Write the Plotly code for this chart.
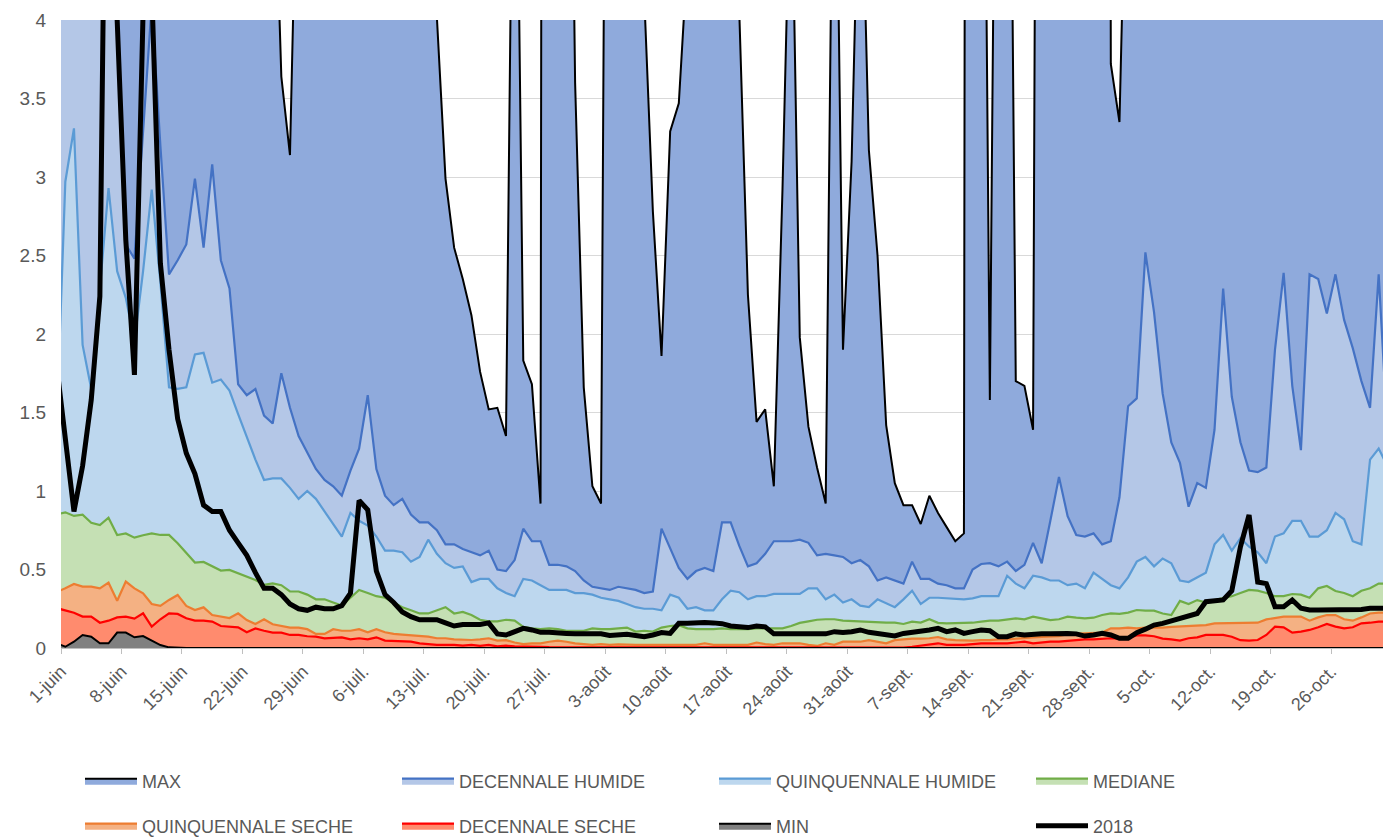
import pandas as pd
import plotly.graph_objects as go

# one value per day, 31-mai .. 1-nov (points sit at the middle of each day)
jours = pd.date_range("2018-05-31 12:00", periods=155, freq="D")

maxi = [
    8, 8, 8, 8, 8, 8, 8, 8, 8, 8,
    8, 8, 8, 8, 8, 8, 8, 8, 8, 8,
    8, 8, 8, 8, 8, 5.4, 3.64, 3.14, 7.0, 8,
    8, 8, 8, 8, 8, 8, 8, 8, 8, 8,
    8, 8, 8, 6.0, 4.02, 2.99, 2.55, 2.35, 2.12, 1.76,
    1.52, 1.53, 1.35, 6.5, 1.83, 1.68, 0.92, 40, 15, 8,
    3.6, 1.66, 1.03, 0.92, 10.8, 8, 8, 8, 4.15, 2.78,
    1.86, 3.29, 3.47, 4.4, 8, 8, 8, 8, 8, 4.05,
    2.25, 1.44, 1.52, 1.03, 2.92, 5.2, 1.98, 1.41, 1.15, 0.92,
    6.2, 1.9, 3.1, 5.4, 3.17, 2.5, 1.42, 1.05, 0.91, 0.91,
    0.79, 0.97, 0.86, 0.77, 0.68, 0.73, 40, 8, 1.58, 8,
    8, 1.70, 1.67, 1.39, 15, 8, 8, 8, 8, 8,
    8, 30, 3.72, 3.35, 5.2, 8, 8, 8, 8, 8,
    8, 8, 8, 8, 8, 8, 8, 8, 8, 8,
    8, 8, 8, 8, 8, 8, 8, 8, 8, 8,
    8, 8, 8, 8, 8,
]

decennale_humide = [
    8, 8, 8, 8, 8, 8, 8, 4.05, 2.57, 2.48,
    3.3, 4.1, 3.2, 2.38, 2.47, 2.57, 2.99, 2.55, 3.08, 2.47,
    2.29, 1.68, 1.61, 1.65, 1.48, 1.43, 1.75, 1.53, 1.35, 1.24,
    1.14, 1.07, 1.03, 0.97, 1.13, 1.27, 1.61, 1.14, 0.97, 0.91,
    0.95, 0.85, 0.80, 0.80, 0.75, 0.66, 0.66, 0.63, 0.61, 0.59,
    0.62, 0.50, 0.49, 0.56, 0.76, 0.68, 0.68, 0.53, 0.53, 0.52,
    0.49, 0.43, 0.39, 0.38, 0.37, 0.39, 0.38, 0.37, 0.35, 0.36,
    0.76, 0.63, 0.51, 0.44, 0.49, 0.51, 0.49, 0.80, 0.80, 0.65,
    0.52, 0.54, 0.60, 0.68, 0.68, 0.68, 0.69, 0.67, 0.59, 0.60,
    0.59, 0.58, 0.54, 0.56, 0.52, 0.43, 0.45, 0.43, 0.41, 0.55,
    0.44, 0.44, 0.41, 0.40, 0.38, 0.38, 0.50, 0.535, 0.54, 0.52,
    0.55, 0.49, 0.53, 0.67, 0.54, 0.81, 1.09, 0.84, 0.72, 0.71,
    0.73, 0.66, 0.68, 0.96, 1.54, 1.59, 2.52, 2.14, 1.62, 1.31,
    1.18, 0.90, 1.05, 1.02, 1.39, 2.29, 1.60, 1.31, 1.13, 1.12,
    1.15, 1.90, 2.39, 1.67, 1.26, 2.38, 2.35, 2.13, 2.38, 2.09,
    1.91, 1.70, 1.53, 2.38, 1.38,
]

quinquennale_humide = [
    1.43, 2.97, 3.31, 1.93, 1.65, 2.30, 2.93, 2.40, 2.23, 1.95,
    2.40, 2.92, 2.33, 1.66, 1.65, 1.66, 1.87, 1.88, 1.69, 1.71,
    1.64, 1.49, 1.34, 1.20, 1.07, 1.08, 1.08, 1.02, 0.95, 1.00,
    0.95, 0.87, 0.79, 0.71, 0.86, 0.81, 0.78, 0.71, 0.62, 0.62,
    0.61, 0.55, 0.58, 0.69, 0.60, 0.54, 0.51, 0.52, 0.42, 0.44,
    0.44, 0.38, 0.35, 0.33, 0.44, 0.43, 0.40, 0.37, 0.37, 0.37,
    0.35, 0.35, 0.34, 0.32, 0.31, 0.30, 0.28, 0.26, 0.25, 0.25,
    0.24, 0.34, 0.32, 0.25, 0.26, 0.24, 0.24, 0.31, 0.365, 0.355,
    0.31, 0.33, 0.33, 0.345, 0.345, 0.345, 0.345, 0.38, 0.38, 0.31,
    0.34, 0.29, 0.31, 0.27, 0.26, 0.31, 0.285, 0.26, 0.31, 0.365,
    0.28, 0.32, 0.32, 0.316, 0.316, 0.31, 0.316, 0.33, 0.33, 0.33,
    0.46, 0.41, 0.38, 0.46, 0.45, 0.43, 0.43, 0.40, 0.41, 0.38,
    0.48, 0.44, 0.40, 0.38, 0.45, 0.55, 0.58, 0.52, 0.57, 0.54,
    0.43, 0.42, 0.45, 0.48, 0.66, 0.72, 0.62, 0.70, 0.645, 0.61,
    0.54, 0.71, 0.73, 0.81, 0.81, 0.71, 0.71, 0.75, 0.86, 0.82,
    0.68, 0.66, 1.20, 1.27, 1.16,
]

mediane = [
    0.852, 0.864, 0.841, 0.849, 0.798, 0.783, 0.830, 0.720, 0.730, 0.703,
    0.718, 0.730, 0.720, 0.720, 0.667, 0.603, 0.544, 0.548, 0.522, 0.493,
    0.497, 0.476, 0.450, 0.433, 0.403, 0.412, 0.40, 0.36, 0.36, 0.34,
    0.31, 0.31, 0.29, 0.27, 0.32, 0.37, 0.35, 0.33, 0.32, 0.29,
    0.26, 0.24, 0.22, 0.22, 0.24, 0.26, 0.22, 0.23, 0.21, 0.18,
    0.17, 0.17, 0.18, 0.175, 0.135, 0.125, 0.12, 0.125, 0.12, 0.11,
    0.11, 0.11, 0.125, 0.12, 0.12, 0.125, 0.13, 0.105, 0.11, 0.105,
    0.13, 0.14, 0.145, 0.125, 0.12, 0.12, 0.12, 0.125, 0.12, 0.12,
    0.12, 0.125, 0.125, 0.125, 0.125, 0.14, 0.16, 0.17, 0.18, 0.183,
    0.183, 0.175, 0.172, 0.168, 0.165, 0.162, 0.162, 0.161, 0.153, 0.168,
    0.162, 0.183, 0.16, 0.157, 0.157, 0.157, 0.161, 0.168, 0.174, 0.174,
    0.183, 0.189, 0.183, 0.20, 0.189, 0.178, 0.183, 0.20, 0.193, 0.189,
    0.193, 0.21, 0.22, 0.217, 0.225, 0.242, 0.238, 0.238, 0.22, 0.21,
    0.30, 0.28, 0.305, 0.29, 0.305, 0.316, 0.33, 0.35, 0.37, 0.365,
    0.35, 0.33, 0.33, 0.344, 0.34, 0.32, 0.38, 0.395, 0.363, 0.35,
    0.33, 0.365, 0.38, 0.41, 0.41,
]

quinquennale_seche = [
    0.358, 0.38, 0.408, 0.391, 0.391, 0.38, 0.416, 0.301, 0.423, 0.38,
    0.348, 0.28, 0.268, 0.306, 0.338, 0.268, 0.242, 0.259, 0.21, 0.20,
    0.191, 0.221, 0.178, 0.153, 0.183, 0.151, 0.14, 0.13, 0.13, 0.12,
    0.09, 0.09, 0.12, 0.11, 0.11, 0.12, 0.10, 0.12, 0.10, 0.09,
    0.085, 0.08, 0.077, 0.072, 0.062, 0.062, 0.055, 0.051, 0.051, 0.055,
    0.062, 0.047, 0.05, 0.035, 0.025, 0.03, 0.03, 0.04, 0.047, 0.04,
    0.03, 0.025, 0.02, 0.025, 0.02, 0.023, 0.02, 0.02, 0.02, 0.02,
    0.02, 0.02, 0.02, 0.02, 0.02, 0.03, 0.02, 0.02, 0.02, 0.02,
    0.02, 0.035, 0.025, 0.02, 0.03, 0.03, 0.03, 0.02, 0.013, 0.03,
    0.02, 0.04, 0.04, 0.04, 0.05, 0.04, 0.03, 0.05, 0.055, 0.06,
    0.06, 0.062, 0.07, 0.055, 0.05, 0.047, 0.047, 0.05, 0.05, 0.055,
    0.055, 0.06, 0.065, 0.068, 0.07, 0.072, 0.075, 0.088, 0.09, 0.092,
    0.094, 0.098, 0.125, 0.125, 0.13, 0.125, 0.13, 0.13, 0.13, 0.135,
    0.137, 0.14, 0.14, 0.146, 0.157, 0.157, 0.16, 0.161, 0.161, 0.161,
    0.182, 0.19, 0.20, 0.20, 0.20, 0.174, 0.195, 0.21, 0.21, 0.183,
    0.174, 0.195, 0.22, 0.225, 0.225,
]

decennale_seche = [
    0.254, 0.238, 0.225, 0.20, 0.20, 0.161, 0.174, 0.195, 0.20, 0.187,
    0.221, 0.136, 0.183, 0.221, 0.217, 0.189, 0.174, 0.174, 0.168, 0.14,
    0.136, 0.132, 0.10, 0.125, 0.11, 0.098, 0.098, 0.083, 0.083, 0.075,
    0.072, 0.062, 0.065, 0.068, 0.055, 0.062, 0.055, 0.068, 0.047, 0.045,
    0.045, 0.04, 0.03, 0.025, 0.02, 0.02, 0.02, 0.015, 0.02, 0.013,
    0.02, 0.01, 0.015, 0.01, 0.01, 0.012, 0.008, 0.005, 0.005, 0.005,
    0.004, 0.005, 0.004, 0.005, 0.004, 0.003, 0.004, 0.003, 0.003, 0.004,
    0.003, 0.004, 0.003, 0.003, 0.004, 0.003, 0.003, 0.004, 0.003, 0.003,
    0.003, 0.004, 0.003, 0.003, 0.004, 0.003, 0.003, 0.004, 0.003, 0.003,
    0.003, 0.004, 0.003, 0.003, 0.004, 0.003, 0.003, 0.004, 0.003, 0.008,
    0.015, 0.025, 0.03, 0.02, 0.02, 0.02, 0.025, 0.03, 0.03, 0.03,
    0.03, 0.035, 0.04, 0.03, 0.035, 0.04, 0.04, 0.045, 0.05, 0.055,
    0.055, 0.06, 0.062, 0.06, 0.065, 0.08, 0.08, 0.075, 0.06, 0.055,
    0.047, 0.062, 0.068, 0.083, 0.083, 0.083, 0.072, 0.05, 0.047, 0.051,
    0.083, 0.136, 0.132, 0.098, 0.104, 0.115, 0.132, 0.153, 0.136, 0.125,
    0.132, 0.157, 0.161, 0.168, 0.168,
]

mini = [
    0.03, 0.008, 0.040, 0.083, 0.072, 0.030, 0.030, 0.098, 0.098, 0.068,
    0.076, 0.047, 0.019, 0.004, 0, 0, 0, 0, 0, 0,
    0, 0, 0, 0, 0, 0, 0, 0, 0, 0,
    0, 0, 0, 0, 0, 0, 0, 0, 0, 0,
    0, 0, 0, 0, 0, 0, 0, 0, 0, 0,
    0, 0, 0, 0, 0, 0, 0, 0, 0, 0,
    0, 0, 0, 0, 0, 0, 0, 0, 0, 0,
    0, 0, 0, 0, 0, 0, 0, 0, 0, 0,
    0, 0, 0, 0, 0, 0, 0, 0, 0, 0,
    0, 0, 0, 0, 0, 0, 0, 0, 0, 0,
    0, 0, 0, 0, 0, 0, 0, 0, 0, 0,
    0, 0, 0, 0, 0, 0, 0, 0, 0, 0,
    0, 0, 0, 0, 0, 0, 0, 0, 0, 0,
    0, 0, 0, 0, 0, 0, 0, 0, 0, 0,
    0, 0, 0, 0, 0, 0, 0, 0, 0, 0,
    0, 0, 0, 0, 0,
]

debit_2018 = [
    1.8, 1.34, 0.87, 1.16, 1.58, 2.24, 7.0, 4.0, 2.6, 1.74,
    4.05, 4.2, 2.45, 1.9, 1.46, 1.24, 1.11, 0.91, 0.87, 0.87,
    0.75, 0.67, 0.59, 0.48, 0.38, 0.38, 0.34, 0.28, 0.25, 0.24,
    0.26, 0.25, 0.25, 0.27, 0.35, 0.94, 0.88, 0.49, 0.34, 0.29,
    0.23, 0.20, 0.18, 0.18, 0.18, 0.16, 0.14, 0.15, 0.15, 0.15,
    0.16, 0.09, 0.083, 0.10, 0.125, 0.115, 0.10, 0.10, 0.093, 0.093,
    0.09, 0.09, 0.09, 0.09, 0.08, 0.087, 0.087, 0.08, 0.072, 0.083,
    0.098, 0.093, 0.157, 0.157, 0.163, 0.163, 0.16, 0.155, 0.14, 0.135,
    0.13, 0.14, 0.135, 0.09, 0.09, 0.09, 0.09, 0.09, 0.09, 0.09,
    0.104, 0.098, 0.104, 0.115, 0.10, 0.093, 0.09, 0.077, 0.093, 0.098,
    0.104, 0.115, 0.125, 0.104, 0.115, 0.093, 0.104, 0.115, 0.11, 0.072,
    0.072, 0.09, 0.083, 0.09, 0.09, 0.09, 0.093, 0.093, 0.09, 0.076,
    0.083, 0.093, 0.083, 0.062, 0.062, 0.098, 0.12, 0.146, 0.157, 0.174,
    0.183, 0.20, 0.22, 0.295, 0.30, 0.306, 0.365, 0.645, 0.847, 0.42,
    0.41, 0.263, 0.263, 0.306, 0.253, 0.242, 0.242, 0.242, 0.242, 0.242,
    0.242, 0.246, 0.253, 0.253, 0.253,
]

tick_dates = pd.date_range("2018-06-01", "2018-10-26", freq="7D")
tick_labels = [
    "1-juin", "8-juin", "15-juin", "22-juin", "29-juin", "6-juil.", "13-juil.",
    "20-juil.", "27-juil.", "3-août", "10-août", "17-août", "24-août", "31-août",
    "7-sept.", "14-sept.", "21-sept.", "28-sept.", "5-oct.", "12-oct.", "19-oct.", "26-oct.",
]

FONT = "Liberation Sans, Arial, sans-serif"
GREY = "#595959"

# (name, values, fill, outline, width, legend)
areas = [
    ("MAX", maxi, "#8FAADC", "#000000", 2, "legend"),
    ("DECENNALE HUMIDE", decennale_humide, "#B4C7E7", "#4472C4", 2.2, "legend"),
    ("QUINQUENNALE HUMIDE", quinquennale_humide, "#BDD7EE", "#5B9BD5", 2.2, "legend"),
    ("MEDIANE", mediane, "#C5E0B4", "#70AD47", 2.2, "legend"),
    ("QUINQUENNALE SECHE", quinquennale_seche, "#F4B183", "#ED7D31", 2.2, "legend2"),
    ("DECENNALE SECHE", decennale_seche, "#FF8B6E", "#FF0000", 2.2, "legend2"),
    ("MIN", mini, "#808080", "#000000", 2, "legend2"),
]

fig = go.Figure()
for name, vals, fill, line, w, leg in areas:
    fig.add_trace(go.Scatter(
        x=jours, y=vals, name=name, mode="lines", fill="tozeroy",
        fillcolor=fill, line=dict(color=line, width=w), legend=leg,
    ))
fig.add_trace(go.Scatter(
    x=jours, y=debit_2018, name="2018", mode="lines",
    line=dict(color="#000000", width=5), legend="legend2",
))

leg_common = dict(
    orientation="h", xref="container", yref="container", xanchor="left",
    yanchor="middle", entrywidth=250, entrywidthmode="pixels",
    font=dict(family=FONT, size=18, color=GREY), bgcolor="rgba(0,0,0,0)",
    itemwidth=52, traceorder="normal",
)

fig.update_layout(
    width=1392, height=839,
    margin=dict(l=61, r=9, t=20, b=191),
    paper_bgcolor="white", plot_bgcolor="white",
    font=dict(family=FONT, color=GREY),
    legend=dict(x=80 / 1392, y=1 - 781 / 839, **leg_common),
    legend2=dict(x=80 / 1392, y=1 - 826 / 839, **leg_common),
    xaxis=dict(
        range=["2018-06-01", "2018-11-01"], tickvals=tick_dates, ticktext=tick_labels,
        tickangle=-45, tickfont=dict(family=FONT, size=18, color=GREY),
        showgrid=False, showline=True, linecolor="#BFBFBF", linewidth=1,
        ticks="outside", ticklen=5, tickcolor="#BFBFBF", zeroline=False,
        automargin=False,
    ),
    yaxis=dict(
        range=[0, 4], dtick=0.5, tickfont=dict(family=FONT, size=19, color=GREY),
        showgrid=True, gridcolor="#D9D9D9", gridwidth=1.3, zeroline=False,
        showline=False, ticks="", ticklabelstandoff=14, automargin=False,
    ),
)

# page without the browser's default body margin, and no mode bar
fig.write_html(
    "out.html",
    config={"displayModeBar": False},
    post_script="document.body.style.margin = '0';",
)
